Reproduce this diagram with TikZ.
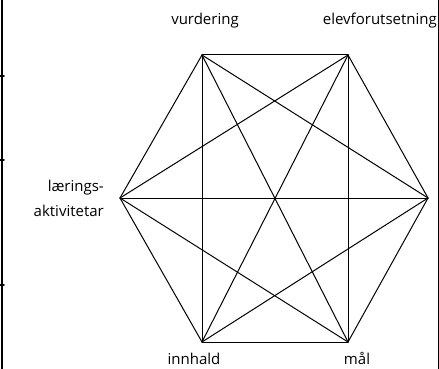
\documentclass[tikz,border=0pt]{standalone}
\usepackage{fontspec}
\setmainfont{Open Sans}
\begin{document}
\begin{tikzpicture}[
  x=1pt, y=-1pt,
  line join=round, line cap=round,
  edge/.style={line width=1pt},
  frame/.style={line width=1.5pt},
  label/.style={font=\fontsize{15}{25}\selectfont, inner sep=0pt},
]
\useasboundingbox (0,0) rectangle (439,369);

% the corners of the hexagon
\coordinate (vu) at (202,55);
\coordinate (el) at (348,55);
\coordinate (ak) at (120,198);
\coordinate (ra) at (428,198);
\coordinate (in) at (202,342);
\coordinate (ma) at (348,342);

% every corner joined to every other
\foreach \a/\b in {vu/el,vu/ak,vu/ra,vu/in,vu/ma,
                   el/ak,el/ra,el/in,el/ma,
                   ak/ra,ak/in,ak/ma,
                   ra/in,ra/ma,
                   in/ma} {
  \draw[edge] (\a) -- (\b);
}

% the texts
\node[label] (tvu) at (205,21) {vurdering};
\node[label, anchor=east] (tel) at (437,21) {elevforutsetning};
\node[label, anchor=east, align=right] (tak) at (104,198) {lærings-\\aktivitetar};
\node[label] (tin) at (194,359) {innhald};
\node[label] (tma) at (357,358) {mål};

% the table borders round it
\draw[frame] (2,0) -- (2,369);
\draw[edge] (438,0) -- (438,369);
\foreach \y in {76,160,285} { \draw[frame] (0,\y) -- (4,\y); }

\end{tikzpicture}
\end{document}
